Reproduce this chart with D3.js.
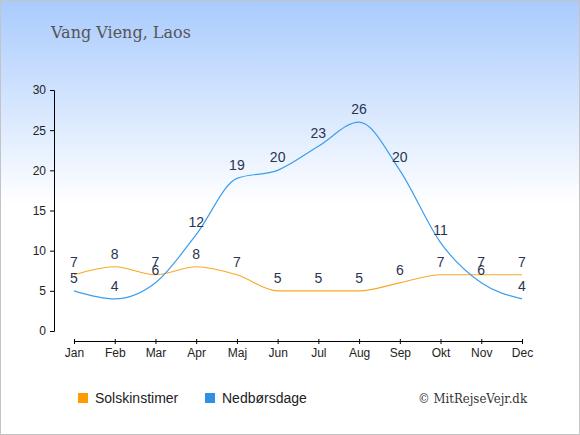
<!DOCTYPE html>
<html>
<head>
<meta charset="utf-8">
<script src="https://cdn.jsdelivr.net/npm/d3@7"></script>
<style>
  body { margin: 0; }
  svg { display: block; }
</style>
</head>
<body>
<svg></svg>
<script>
let months = ['Jan', 'Feb', 'Mar', 'Apr', 'Maj', 'Jun', 'Jul', 'Aug', 'Sep', 'Okt', 'Nov', 'Dec'];
let sunHours = [7, 8, 7, 8, 7, 5, 5, 5, 6, 7, 7, 7];
let rainDays = [5, 4, 6, 12, 19, 20, 23, 26, 20, 11, 6, 4];
let yTicks = [0, 5, 10, 15, 20, 25, 30];
let seriesNames = ['Solskinstimer', 'Nedbørsdage'];

let width = 580;
let height = 435;

let svg = d3.select('svg')
  .attr('width', width)
  .attr('height', height)

// background gradient
let defs = svg.append('defs');
let grad = defs.append('linearGradient')
  .attr('id', 'bg')
  .attr('x1', 0).attr('y1', 0)
  .attr('x2', 0).attr('y2', 1)
grad.append('stop').attr('offset', '0%').attr('stop-color', '#a9cbfd')
grad.append('stop').attr('offset', '47%').attr('stop-color', '#ffffff')
grad.append('stop').attr('offset', '100%').attr('stop-color', '#ffffff')

svg.append('rect')
  .attr('x', 0.5).attr('y', 0.5)
  .attr('width', width - 1).attr('height', height - 1)
  .attr('fill', 'url(#bg)')
  .attr('stroke', '#c4c4c4')

svg.append('text')
  .attr('x', 51)
  .attr('y', 38)
  .attr('font-family', '"DejaVu Serif", serif')
  .attr('font-size', 16)
  .attr('fill', '#555')
  .text('Vang Vieng, Laos')

let xScale = d3.scalePoint()
  .domain(months)
  .range([74, 522])

let yScale = d3.scaleLinear()
  .domain([0, 30])
  .range([331, 90])

let xAxis = d3.axisBottom(xScale).tickSizeOuter(0).tickSize(3).tickPadding(4);
let xg = svg.append('g')
  .attr('transform', 'translate(0, 341)')
  .call(xAxis)
xg.selectAll('.tick line').attr('y1', -2)

let yAxis = d3.axisLeft(yScale).tickValues(yTicks).tickSizeOuter(0).tickSize(4).tickPadding(4);
let yg = svg.append('g')
  .attr('transform', 'translate(54, 0)')
  .call(yAxis)

;[xg, yg].forEach(g => {
  g.selectAll('text')
    .attr('font-family', '"Liberation Sans", Arial, sans-serif')
    .attr('font-size', 12)
    .attr('fill', '#222')
  g.selectAll('path, line').attr('stroke', '#000')
})

let line = d3.line()
  .x((d, i) => xScale(months[i]))
  .y(d => yScale(d))
  .curve(d3.curveMonotoneX)

svg.append('path')
  .datum(sunHours)
  .attr('d', line)
  .attr('fill', 'none')
  .attr('stroke', '#f9a825')
  .attr('stroke-width', 1.2)

svg.append('path')
  .datum(rainDays)
  .attr('d', line)
  .attr('fill', 'none')
  .attr('stroke', '#3d9ded')
  .attr('stroke-width', 1.2)

let drawLabels = (values) => {
  svg.append('g')
    .selectAll('text')
    .data(values)
    .enter()
    .append('text')
    .attr('x', (d, i) => xScale(months[i]))
    .attr('y', d => yScale(d) - 8)
    .attr('text-anchor', 'middle')
    .attr('font-family', '"Liberation Sans", Arial, sans-serif')
    .attr('font-size', 14)
    .attr('fill', '#2a3350')
    .text(d => d)
}
drawLabels(sunHours)
drawLabels(rainDays)

// legend
let legend = [
  { name: seriesNames[0], color: '#ff9a00', x: 78 },
  { name: seriesNames[1], color: '#2f90e6', x: 205 }
];
let lg = svg.append('g')
lg.selectAll('rect')
  .data(legend)
  .enter()
  .append('rect')
  .attr('x', d => d.x)
  .attr('y', 393)
  .attr('width', 10)
  .attr('height', 10)
  .attr('fill', d => d.color)
lg.selectAll('text')
  .data(legend)
  .enter()
  .append('text')
  .attr('x', d => d.x + 17)
  .attr('y', 403)
  .attr('font-family', '"Liberation Sans", Arial, sans-serif')
  .attr('font-size', 14)
  .attr('fill', '#222')
  .text(d => d.name)

svg.append('text')
  .attr('x', 418)
  .attr('y', 403)
  .attr('font-family', '"DejaVu Serif", serif')
  .attr('font-size', 12)
  .attr('fill', '#333')
  .attr('textLength', 109)
  .attr('lengthAdjust', 'spacingAndGlyphs')
  .text('© MitRejseVejr.dk')
</script>
</body>
</html>
